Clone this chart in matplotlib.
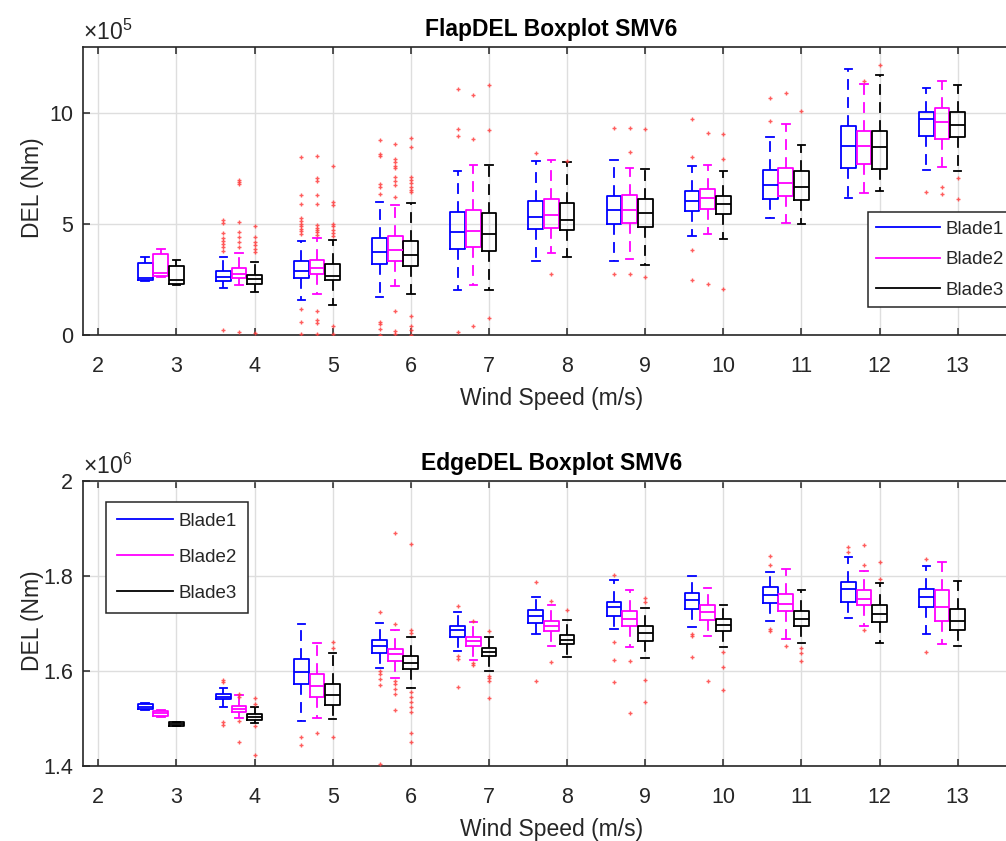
"""Flapwise and edgewise DEL boxplots per wind speed bin for the three blades (SMV6)."""

from __future__ import annotations

import matplotlib

matplotlib.use("Agg")
import matplotlib.pyplot as plt
from matplotlib.lines import Line2D
from matplotlib.ticker import FuncFormatter

plt.rcParams["font.family"] = ["Liberation Sans", "DejaVu Sans"]
plt.rcParams["mathtext.fontset"] = "custom"
plt.rcParams["mathtext.rm"] = "Liberation Sans"
plt.rcParams["mathtext.it"] = "Liberation Sans:italic"

WIND_SPEEDS = [3, 4, 5, 6, 7, 8, 9, 10, 11, 12, 13]
BLADES = ["Blade1", "Blade2", "Blade3"]

# Box statistics per wind speed: [whisker low, q1, median, q3, whisker high]
# Flapwise DEL, in units of 1e5 Nm
FLAP_SCALE = 1e5
FLAP_B1 = [
    [2.44, 2.50, 2.56, 3.27, 3.52],
    [2.10, 2.44, 2.62, 2.89, 3.51],
    [1.59, 2.59, 2.89, 3.34, 4.26],
    [1.72, 3.19, 3.73, 4.36, 6.00],
    [2.02, 3.88, 4.65, 5.55, 7.42],
    [3.33, 4.80, 5.32, 6.03, 7.84],
    [3.33, 5.01, 5.64, 6.27, 7.89],
    [4.47, 5.58, 6.04, 6.51, 7.62],
    [5.29, 6.16, 6.79, 7.45, 8.95],
    [6.19, 7.56, 8.55, 9.43, 12.02],
    [7.47, 9.00, 9.75, 10.06, 11.17],
]
FLAP_B2 = [
    [2.62, 2.65, 2.82, 3.64, 3.88],
    [2.25, 2.59, 2.77, 3.04, 3.72],
    [1.87, 2.73, 3.03, 3.40, 4.38],
    [2.20, 3.33, 3.85, 4.45, 5.89],
    [2.25, 3.96, 4.69, 5.62, 7.69],
    [3.72, 4.83, 5.40, 6.13, 7.90],
    [3.43, 5.04, 5.62, 6.33, 7.56],
    [4.57, 5.70, 6.19, 6.57, 7.69],
    [5.07, 6.28, 6.85, 7.56, 9.52],
    [6.42, 7.71, 8.55, 9.22, 11.32],
    [7.57, 8.85, 9.63, 10.24, 11.47],
]
FLAP_B3 = [
    [2.25, 2.29, 2.50, 3.13, 3.39],
    [1.93, 2.28, 2.52, 2.70, 3.31],
    [1.35, 2.47, 2.68, 3.19, 4.29],
    [1.84, 3.10, 3.63, 4.24, 5.95],
    [2.02, 3.78, 4.57, 5.50, 7.68],
    [3.52, 4.72, 5.17, 5.95, 7.80],
    [3.15, 4.86, 5.50, 6.15, 7.51],
    [4.32, 5.47, 5.92, 6.28, 7.38],
    [5.02, 6.10, 6.67, 7.38, 8.59],
    [6.52, 7.51, 8.47, 9.22, 11.72],
    [7.38, 8.92, 9.48, 10.06, 11.29],
]
FLAP_B1_OUT = [
    [],
    [5.20, 5.05, 4.60, 4.40, 4.25, 4.10, 3.95, 3.80, 0.22],
    [8.02, 6.30, 5.90, 5.28, 5.15, 5.02, 4.90, 4.80, 4.70, 4.55, 1.15, 0.60, 0.05],
    [8.79, 8.17, 8.07, 6.82, 6.70, 6.37, 0.60, 0.49, 0.25, 0.02],
    [11.09, 9.30, 9.00, 0.15],
    [8.23],
    [9.34, 2.74],
    [9.75, 8.02, 3.82, 2.47],
    [10.69, 9.64],
    [],
    [6.45],
]
FLAP_B2_OUT = [
    [],
    [7.00, 6.90, 6.80, 5.10, 4.65, 4.42, 4.20, 3.97, 0.13],
    [8.07, 7.10, 6.95, 6.34, 5.90, 4.95, 4.85, 4.75, 4.65, 4.50, 1.09, 0.67, 0.55, 0.05],
    [8.64, 7.93, 7.80, 7.65, 7.53, 7.15, 6.97, 6.79, 6.25, 1.08, 0.20, 0.03],
    [10.82, 8.85, 0.42],
    [2.77],
    [9.34, 8.25, 2.74],
    [9.13, 2.29],
    [10.91],
    [11.47],
    [6.67, 6.37],
]
FLAP_B3_OUT = [
    [],
    [4.92, 4.42, 4.20, 4.05, 3.90, 3.75, 0.07],
    [7.63, 6.00, 5.85, 5.00, 4.90, 4.75, 4.60, 4.45, 0.42, 0.05],
    [8.88, 8.47, 7.15, 7.00, 6.85, 6.70, 6.55, 6.45, 0.85, 0.42, 0.22, 0.02],
    [11.27, 9.27, 0.75],
    [7.84],
    [9.31, 2.62],
    [9.09, 7.93, 2.07],
    [10.12],
    [12.17],
    [7.09, 6.13],
]

# Edgewise DEL, in units of 1e6 Nm
EDGE_SCALE = 1e6
EDGE_B1 = [
    [1.517, 1.519, 1.5247, 1.530, 1.532],
    [1.525, 1.540, 1.5456, 1.5505, 1.5645],
    [1.4955, 1.572, 1.597, 1.626, 1.699],
    [1.6056, 1.638, 1.652, 1.666, 1.700],
    [1.642, 1.672, 1.687, 1.694, 1.724],
    [1.677, 1.702, 1.715, 1.729, 1.756],
    [1.6885, 1.715, 1.734, 1.746, 1.792],
    [1.692, 1.731, 1.7485, 1.764, 1.800],
    [1.7045, 1.743, 1.759, 1.776, 1.808],
    [1.7115, 1.746, 1.773, 1.787, 1.840],
    [1.678, 1.734, 1.755, 1.772, 1.820],
]
EDGE_B2 = [
    [1.504, 1.505, 1.511, 1.516, 1.517],
    [1.502, 1.5136, 1.519, 1.5254, 1.549],
    [1.501, 1.5456, 1.568, 1.593, 1.659],
    [1.585, 1.621, 1.635, 1.647, 1.686],
    [1.624, 1.652, 1.663, 1.671, 1.703],
    [1.653, 1.685, 1.694, 1.706, 1.739],
    [1.650, 1.6955, 1.710, 1.727, 1.771],
    [1.674, 1.708, 1.724, 1.739, 1.774],
    [1.668, 1.7255, 1.741, 1.762, 1.815],
    [1.6955, 1.738, 1.752, 1.770, 1.810],
    [1.6558, 1.706, 1.734, 1.771, 1.829],
]
EDGE_B3 = [
    [1.484, 1.485, 1.4885, 1.492, 1.493],
    [1.4899, 1.4975, 1.5038, 1.5087, 1.5233],
    [1.498, 1.529, 1.550, 1.572, 1.638],
    [1.5638, 1.6035, 1.617, 1.631, 1.671],
    [1.600, 1.631, 1.640, 1.649, 1.672],
    [1.630, 1.656, 1.666, 1.676, 1.707],
    [1.628, 1.663, 1.679, 1.694, 1.7325],
    [1.650, 1.684, 1.6976, 1.710, 1.738],
    [1.6585, 1.694, 1.710, 1.7255, 1.770],
    [1.659, 1.704, 1.720, 1.738, 1.785],
    [1.653, 1.686, 1.7045, 1.730, 1.790],
]
EDGE_B1_OUT = [
    [],
    [1.580, 1.576, 1.492, 1.487],
    [1.461, 1.445],
    [1.725, 1.600, 1.593, 1.583, 1.570, 1.405],
    [1.736, 1.631, 1.626, 1.567],
    [1.788, 1.579],
    [1.801, 1.661, 1.624, 1.577],
    [1.677, 1.673, 1.630],
    [1.842, 1.824, 1.689, 1.684],
    [1.861, 1.851],
    [1.836, 1.640],
]
EDGE_B2_OUT = [
    [],
    [1.551, 1.546, 1.495, 1.450],
    [1.469],
    [1.891, 1.698, 1.579, 1.572, 1.562, 1.551, 1.518],
    [1.705, 1.616, 1.613],
    [1.748, 1.619],
    [1.621, 1.512],
    [1.579],
    [1.652],
    [1.866, 1.823, 1.687],
    [],
]
EDGE_B3_OUT = [
    [],
    [1.543, 1.530, 1.4836, 1.4236],
    [1.661, 1.649, 1.461],
    [1.868, 1.686, 1.680, 1.555, 1.545, 1.535, 1.525, 1.513, 1.469, 1.450],
    [1.684, 1.590, 1.585, 1.579, 1.544],
    [1.729],
    [1.753, 1.746, 1.580, 1.534],
    [1.640, 1.608, 1.561],
    [1.649, 1.638, 1.622],
    [1.829, 1.794],
    [],
]

_COLORS = ("#0000ff", "#ff00ff", "#000000")
_FRAME = "#262626"
_GRID = "#dedede"
_FIG_SIZE = (10.06, 8.41)
_DPI = 100
_BOX_WIDTH = 0.19
_OFFSETS = (-0.4, -0.2, 0.0)
_FS = 15.5


def _draw_blade(ax, stats, outliers, scale, offset, color):
    boxes = []
    for (lo, q1, med, q3, hi), fl in zip(stats, outliers):
        boxes.append({
            "whislo": lo * scale, "q1": q1 * scale, "med": med * scale,
            "q3": q3 * scale, "whishi": hi * scale,
            "fliers": [v * scale for v in fl],
        })
    positions = [ws + offset for ws in WIND_SPEEDS]
    line = {"color": color, "linewidth": 1.3}
    ax.bxp(
        boxes,
        positions=positions,
        widths=_BOX_WIDTH,
        capwidths=_BOX_WIDTH * 0.5,
        manage_ticks=False,
        boxprops=line,
        medianprops=line,
        capprops=line,
        whiskerprops={**line, "linestyle": (0, (6, 4))},
        flierprops={"marker": "+", "markersize": 3.0, "markeredgewidth": 1.0,
                    "markeredgecolor": "#ff4040", "alpha": 0.85, "linestyle": "none"},
        zorder=3,
    )


def _style_axes(ax, title, scale, exponent, ylim, yticks):
    ax.set_xlim(1.8, 13.8)
    ax.set_ylim(*ylim)
    ax.set_xticks(range(2, 14))
    ax.set_yticks(yticks)
    ax.yaxis.set_major_formatter(FuncFormatter(lambda v, _: f"{v / scale:g}"))
    ax.grid(True, color=_GRID, linewidth=1.0, zorder=0)
    ax.set_axisbelow(True)
    for spine in ax.spines.values():
        spine.set_color(_FRAME)
        spine.set_linewidth(1.2)
    ax.tick_params(axis="both", direction="in", length=5, width=1.1, color=_FRAME,
                   labelcolor=_FRAME, labelsize=_FS, top=True, right=True)
    ax.tick_params(axis="x", pad=15)
    ax.tick_params(axis="y", pad=7)
    ax.set_title(title, fontsize=16.5, fontweight="bold", pad=8, color="black")
    ax.set_xlabel("Wind Speed (m/s)", fontsize=16.5, color=_FRAME, labelpad=7)
    ax.set_ylabel("DEL (Nm)", fontsize=16.5, color=_FRAME)
    ax.yaxis.set_label_coords(-0.041, 0.51)
    ax.text(0.0, 1.024, rf"$\times10^{{{exponent}}}$", transform=ax.transAxes,
            fontsize=16.5, color=_FRAME, ha="left", va="baseline")


def _add_legend(ax, anchor, spacing, pad, handle_len):
    handles = [Line2D([], [], color=c, linewidth=1.3) for c in _COLORS]
    legend = ax.legend(
        handles, BLADES, loc="upper left", bbox_to_anchor=anchor, borderaxespad=0,
        fontsize=13.5, handlelength=handle_len, handletextpad=0.3,
        labelspacing=spacing, borderpad=pad, fancybox=False, framealpha=1,
        edgecolor=_FRAME,
    )
    legend.get_frame().set_linewidth(1.1)
    for text in legend.get_texts():
        text.set_color(_FRAME)


fig = plt.figure(figsize=_FIG_SIZE, dpi=_DPI)
ax_flap = fig.add_axes([0.0822, 0.6017, 0.9319, 0.3424])
ax_edge = fig.add_axes([0.0822, 0.0892, 0.9319, 0.3389])

for stats, outs, off, col in zip((FLAP_B1, FLAP_B2, FLAP_B3),
                                 (FLAP_B1_OUT, FLAP_B2_OUT, FLAP_B3_OUT), _OFFSETS, _COLORS):
    _draw_blade(ax_flap, stats, outs, FLAP_SCALE, off, col)
for stats, outs, off, col in zip((EDGE_B1, EDGE_B2, EDGE_B3),
                                 (EDGE_B1_OUT, EDGE_B2_OUT, EDGE_B3_OUT), _OFFSETS, _COLORS):
    _draw_blade(ax_edge, stats, outs, EDGE_SCALE, off, col)

_style_axes(ax_flap, "FlapDEL Boxplot SMV6", FLAP_SCALE, 5, (0, 13e5), [0, 5e5, 10e5])
_style_axes(ax_edge, "EdgeDEL Boxplot SMV6", EDGE_SCALE, 6, (1.4e6, 2.0e6),
            [1.4e6, 1.6e6, 1.8e6, 2.0e6])

_add_legend(ax_flap, (0.8377, 0.4271), 0.72, 0.45, 3.4)
_add_legend(ax_edge, (0.0245, 0.9274), 1.0, 0.6, 3.0)

fig.savefig("out.png", dpi=_DPI, facecolor="white")
